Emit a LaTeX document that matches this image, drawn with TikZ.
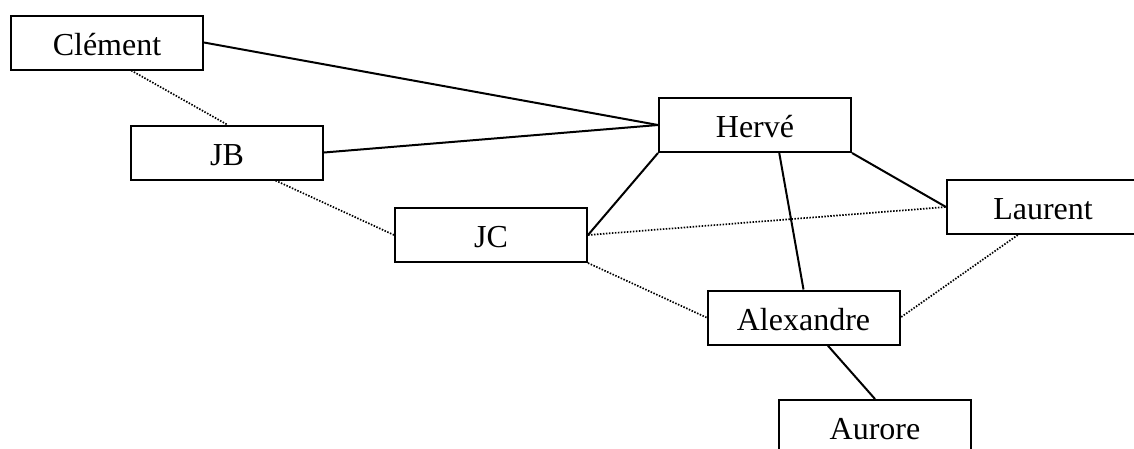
\documentclass[tikz,border=0pt]{standalone}
\usepackage{fontspec}
\setmainfont{Liberation Serif}
\usetikzlibrary{calc}
\tikzset{
  person/.style={draw=black, line width=2pt, fill=white, minimum width=192pt, minimum height=54pt,
    inner sep=0pt, text height=29pt, text depth=4pt, font=\fontsize{32}{38}\selectfont},
  tie/.style={draw=black, line width=2pt},
  weak/.style={draw=black, line width=1.7pt, dash pattern=on 1.5pt off 1.5pt}
}
\begin{document}
\begin{tikzpicture}[x=1pt, y=-1pt]
\useasboundingbox (0,0) rectangle (1134,448);
\fill[white] (0,0) rectangle (1134,448);
\clip (0,0) rectangle (1134,448);
% nodes
\node[person] (clement) at (107,42.5) {Clément};
\node[person] (jb) at (227,152.5) {JB};
\node[person] (herve) at (755,125) {Hervé};
\node[person] (jc) at (491,235) {JC};
\node[person] (laurent) at (1043,207) {Laurent};
\node[person] (alexandre) at (803.5,317.5) {Alexandre};
\node[person] (aurore) at (875,427) {Aurore};
% anchor points on the box edges
\coordinate (clementS) at ($(clement.south west)!0.625!(clement.south east)$);
\coordinate (jbS) at ($(jb.south west)!0.75!(jb.south east)$);
\coordinate (herveS) at ($(herve.south west)!0.625!(herve.south east)$);
\coordinate (laurentS) at ($(laurent.south west)!0.37!(laurent.south east)$);
\coordinate (alexS) at ($(alexandre.south west)!0.625!(alexandre.south east)$);
% strong ties
\draw[tie] (clement.east) -- (herve.west);
\draw[tie] (jb.east) -- (herve.west);
\draw[tie] (herve.south west) -- (jc.east);
\draw[tie] (herveS) -- (alexandre.north);
\draw[tie] (herve.south east) -- (laurent.west);
\draw[tie] (alexS) -- (aurore.north);
% weak ties
\draw[weak] (clementS) -- (jb.north);
\draw[weak] (jbS) -- (jc.west);
\draw[weak] (jc.east) -- (laurent.west);
\draw[weak] (jc.south east) -- (alexandre.west);
\draw[weak] (laurentS) -- (alexandre.east);
\end{tikzpicture}
\end{document}
